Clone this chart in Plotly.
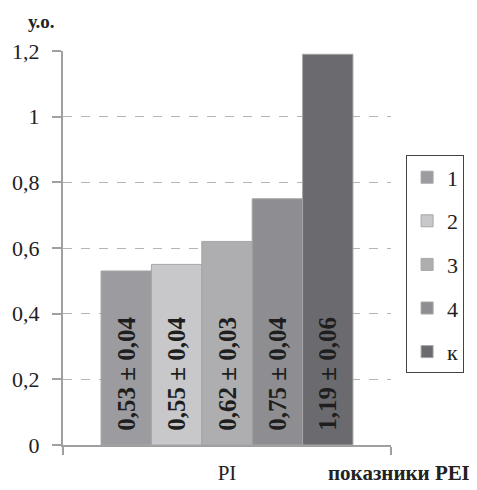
import plotly.graph_objects as go

category = ["PI"]
series_names = ["1", "2", "3", "4", "к"]
values = [0.53, 0.55, 0.62, 0.75, 1.19]
errors = [0.04, 0.04, 0.03, 0.04, 0.06]
colors = ["#9c9ca0", "#c8c8ca", "#aeaeb0", "#8e8e92", "#6b6b6f"]
tick_vals = [0, 0.2, 0.4, 0.6, 0.8, 1.0, 1.2]
tick_text = ["0", "0,2", "0,4", "0,6", "0,8", "1", "1,2"]

SERIF = "Liberation Serif"

def fmt(v):
    return f"{v:.2f}".replace(".", ",")

fig = go.Figure()
for name, v, e, c in zip(series_names, values, errors, colors):
    fig.add_trace(go.Bar(
        x=category, y=[v], name=name, legendgroup=name,
        marker=dict(color=c, line=dict(color="#a6a6a8", width=1)),
        text=["\u00a0\u2009" + f"{fmt(v)} ± {fmt(e)}"],
        textposition="inside", textangle=-90, insidetextanchor="start",
        textfont=dict(family=SERIF, size=25, color="#1e1e1e", weight="bold"),
        cliponaxis=False,
    ))

fig.update_layout(
    width=469, height=482,
    margin=dict(l=55, r=86, t=43, b=45, autoexpand=False),
    paper_bgcolor="white", plot_bgcolor="white",
    barmode="group", bargap=0.232, bargroupgap=0,
    font=dict(family=SERIF, size=20, color="#222222"),
    legend=dict(
        x=1.046, y=0.735, xanchor="left", yanchor="top",
        bordercolor="#444444", borderwidth=1,
        font=dict(family=SERIF, size=22, color="#222222"),
        tracegroupgap=12, traceorder="grouped",
    ),
    xaxis=dict(
        automargin=False,
        showline=True, linecolor="#a0a0a0", linewidth=2,
        ticks="outside", tickson="boundaries", ticklen=8, tickcolor="#a0a0a0", tickwidth=2,
        tickfont=dict(family=SERIF, size=21, color="#222222"),
        ticklabelstandoff=8,
        showgrid=False,
    ),
    yaxis=dict(
        automargin=False,
        range=[0, 1.2], tickvals=tick_vals, ticktext=tick_text,
        showline=True, linecolor="#a0a0a0", linewidth=2,
        ticks="outside", ticklen=9, tickcolor="#a0a0a0", tickwidth=2,
        ticklabelstandoff=8,
        showgrid=True, gridcolor="#b4b4b4", griddash="dash", gridwidth=1,
        zeroline=False,
        tickfont=dict(family=SERIF, size=22, color="#222222"),
    ),
    annotations=[
        dict(text="<b>у.о.</b>", xref="paper", yref="paper", x=-0.065, y=1.0,
             xanchor="center", yanchor="bottom", yshift=17, showarrow=False,
             font=dict(family=SERIF, size=19, color="#222222")),
        dict(text="<b>показники РЕГ</b>", xref="paper", yref="paper", x=1.262, y=0,
             xanchor="right", yanchor="top", yshift=-14, showarrow=False,
             font=dict(family=SERIF, size=21, color="#222222")),
    ],
)

fig.write_html("out.html")
